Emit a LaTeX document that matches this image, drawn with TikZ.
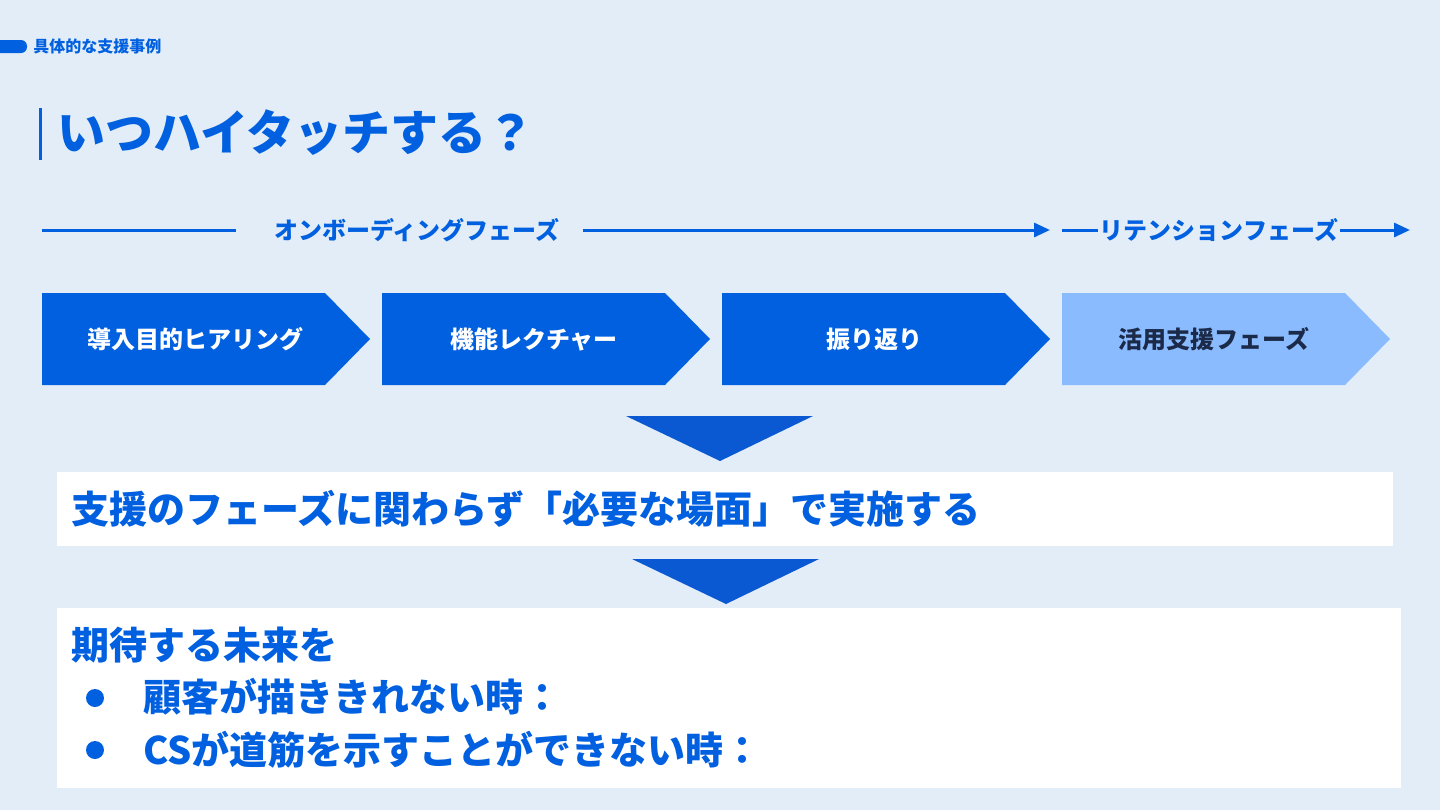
\documentclass[tikz,border=0pt]{standalone}
\usepackage{fontspec}
\setmainfont{Noto Sans CJK JP}
\usetikzlibrary{arrows.meta}
\definecolor{bg}{HTML}{E3EDF8}
\definecolor{mainblue}{HTML}{0060E0}
\definecolor{lightblue}{HTML}{8ABBFF}
\definecolor{navy}{HTML}{1B2A48}
\definecolor{triblue}{HTML}{0A58D2}
\tikzset{
  chev/.style={fill=mainblue, draw=none},
  chevlight/.style={fill=lightblue, draw=none},
  chevtext/.style={anchor=center, inner sep=0pt, text=white, font=\fontsize{12}{14}\selectfont\bfseries},
  phasetext/.style={anchor=center, inner sep=0pt, text=mainblue, font=\fontsize{12}{14}\selectfont\bfseries},
  phaseline/.style={draw=mainblue, line width=1.5pt},
  tri/.style={fill=triblue, draw=none},
  whitebox/.style={fill=white, draw=none},
  bigtext/.style={anchor=west, inner sep=0pt, text=mainblue, font=\fontsize{19}{21}\selectfont\bfseries},
}
\begin{document}
\begin{tikzpicture}[x=0.5pt, y=-0.5pt]
\path[use as bounding box, fill=bg] (0,0) rectangle (1440,810);
% header
\fill[mainblue, rounded corners=3pt] (-10,40) rectangle (27,53);
\node[anchor=west, inner sep=0pt, text=mainblue, font=\fontsize{8}{9}\selectfont\bfseries] (hdr) at (33,46) {具体的な支援事例};
% title
\fill[mainblue] (38.5,108) rectangle (41.5,160);
\node[anchor=west, inner sep=0pt, text=mainblue, font=\fontsize{24}{27}\selectfont\bfseries] (title) at (57,133) {いつハイタッチする？};
% phases
\node[phasetext] (onb) at (417,230) {オンボーディングフェーズ};
\node[phasetext] (ret) at (1219,230) {リテンションフェーズ};
\coordinate (l1a) at (42,230);
\coordinate (l1b) at (236,230);
\coordinate (l2a) at (583,230);
\coordinate (l2b) at (1050,230);
\coordinate (l3a) at (1062,230);
\coordinate (l4b) at (1410,230);
\draw[phaseline] (l1a) -- (l1b);
\draw[phaseline, -{Triangle[length=8pt,width=7pt]}] (l2a) -- (l2b);
\draw[phaseline] (l3a) -- ([xshift=-1pt]ret.west);
\draw[phaseline, -{Triangle[length=8pt,width=7pt]}] ([xshift=1pt]ret.east) -- (l4b);
% chevrons
\fill[chev] (42,293) -- (325,293) -- (370,339) -- (325,385) -- (42,385) -- cycle;
\fill[chev] (382,293) -- (665,293) -- (710,339) -- (665,385) -- (382,385) -- cycle;
\fill[chev] (722,293) -- (1005,293) -- (1050,339) -- (1005,385) -- (722,385) -- cycle;
\fill[chevlight] (1062,293) -- (1345,293) -- (1390,339) -- (1345,385) -- (1062,385) -- cycle;
\node[chevtext] (c1) at (195,339) {導入目的ヒアリング};
\node[chevtext] (c2) at (534,339) {機能レクチャー};
\node[chevtext] (c3) at (874,339) {振り返り};
\node[chevtext, text=navy] (c4) at (1214,339) {活用支援フェーズ};
% triangle 1
\fill[tri] (626,416) -- (813,416) -- (720,461) -- cycle;
% white box 1
\fill[whitebox] (57,472) rectangle (1393,546);
\node[bigtext] (msg) at (71,509) {支援のフェーズに関わらず「必要な場面」で実施する};
% triangle 2
\fill[tri] (632,559) -- (819,559) -- (726,604) -- cycle;
% white box 2
\fill[whitebox] (57,608) rectangle (1401,788);
\node[bigtext] (fut) at (71,645) {期待する未来を};
\fill[mainblue] (95,698) circle (9);
\fill[mainblue] (95,750) circle (9);
\node[bigtext] (b1) at (143,697) {顧客が描ききれない時：};
\node[bigtext] (b2) at (143,750) {CSが道筋を示すことができない時：};
\end{tikzpicture}
\end{document}
